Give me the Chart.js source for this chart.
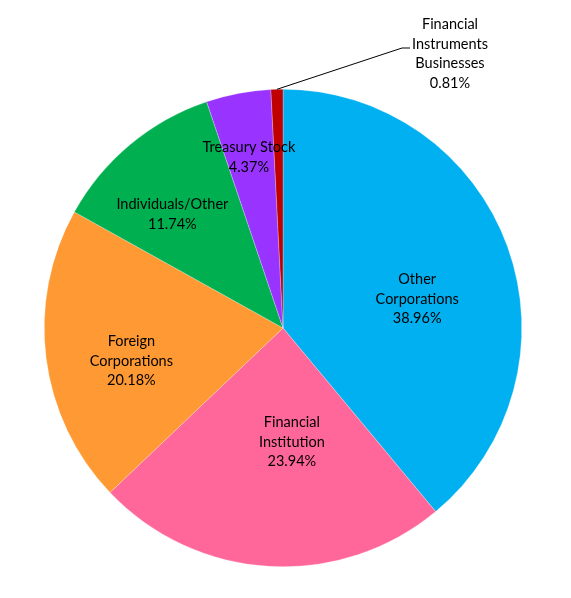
<!DOCTYPE html>
<html>
<head>
<meta charset="utf-8">
<script src="https://cdn.jsdelivr.net/npm/chart.js@4/dist/chart.umd.min.js"></script>
<style>
  html, body { margin: 0; padding: 0; background: #fff; }
  #wrap { width: 571px; height: 598px; position: relative; }
</style>
</head>
<body>
<div id="wrap"><canvas id="shareChart"></canvas></div>
<script>
// shareholder breakdown, clockwise from 12 o'clock
const categories = [
  ['Other', 'Corporations'],
  ['Financial', 'Institution'],
  ['Foreign', 'Corporations'],
  ['Individuals/Other'],
  ['Treasury Stock'],
  ['Financial', 'Instruments', 'Businesses']
];
const shares = [38.96, 23.94, 20.18, 11.74, 4.37, 0.81];
const sliceColors = ['#00B0F0', '#FF6699', '#FF9933', '#00B050', '#9933FF', '#C00000'];

// where each label sits: fraction of radius + angle nudge (deg) from slice middle
const labelSpots = [
  { r: 0.575, da: 7.7 },
  { r: 0.48, da: -7.8 },
  { r: 0.65, da: -5.1 },
  { r: 0.665, da: -4.4 },
  { r: 0.73, da: -0.5 },
  null // drawn outside with a leader line
];

const pieLabels = {
  id: 'pieLabels',
  afterDatasetsDraw(chart) {
    const ctx = chart.ctx;
    const arcs = chart.getDatasetMeta(0).data;
    ctx.save();
    ctx.font = '14.5px Lato';
    ctx.fillStyle = '#000';
    ctx.textAlign = 'center';
    ctx.textBaseline = 'middle';
    const lineH = 19.5;

    arcs.forEach((arc, i) => {
      const p = arc.getProps(['x', 'y', 'startAngle', 'endAngle', 'outerRadius'], true);
      const mid = (p.startAngle + p.endAngle) / 2;
      const lines = categories[i].concat(shares[i].toFixed(2) + '%');
      let cx, cy;
      if (labelSpots[i]) {
        const a = mid + labelSpots[i].da * Math.PI / 180;
        cx = p.x + Math.cos(a) * p.outerRadius * labelSpots[i].r;
        cy = p.y + Math.sin(a) * p.outerRadius * labelSpots[i].r;
      } else {
        // small slice: label up and to the right, joined by a leader
        const ex = p.x + Math.cos(mid) * p.outerRadius;
        const ey = p.y + Math.sin(mid) * p.outerRadius;
        cx = p.x + 167;
        cy = p.y - 274;
        ctx.strokeStyle = '#000';
        ctx.lineWidth = 1;
        ctx.beginPath();
        ctx.moveTo(ex, ey);
        ctx.lineTo(cx - 48, cy - 6);
        ctx.lineTo(cx - 40, cy - 6);
        ctx.stroke();
      }
      const top = cy - (lines.length - 1) * lineH / 2;
      lines.forEach((t, k) => ctx.fillText(t, cx, top + k * lineH));
    });
    ctx.restore();
  }
};

document.addEventListener('DOMContentLoaded', function() {
  const ctx = document.getElementById('shareChart').getContext('2d');
  new Chart(ctx, {
    type: 'pie',
    data: {
      labels: categories.map(c => c.join(' ')),
      datasets: [{
        data: shares,
        backgroundColor: sliceColors,
        borderColor: 'rgba(255,255,255,0.5)',
        borderWidth: 0.5
      }]
    },
    options: {
      responsive: true,
      maintainAspectRatio: false,
      animation: false,
      layout: { padding: { left: 44, right: 49, top: 89, bottom: 31 } },
      plugins: {
        legend: { display: false },
        tooltip: { enabled: false }
      }
    },
    plugins: [pieLabels]
  });
});
</script>
</body>
</html>
